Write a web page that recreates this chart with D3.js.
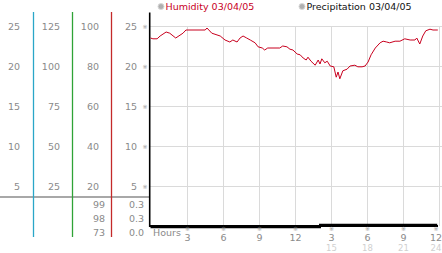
<!DOCTYPE html>
<html>
<head>
<meta charset="utf-8">
<script src="https://cdn.jsdelivr.net/npm/d3@7"></script>
<style>
  body { margin: 0; background: #fff; }
  svg { display: block; font-family: "DejaVu Sans", Verdana, sans-serif; }
</style>
</head>
<body>
<svg id="chart"></svg>
<script>
// humidity trace, hours from midnight
const hours = [0, 0.2, 0.55, 0.8, 1.3, 1.6, 2.1, 2.7, 2.95, 4.55, 4.7, 5.1, 5.8, 6.2, 6.6, 6.85, 7.2, 7.45, 7.7, 8.0,
  8.3, 8.7, 8.95, 9.3, 9.5, 9.75, 10.75, 11.0, 11.35, 11.6, 11.85, 12.2, 12.45, 12.7, 12.95, 13.1, 13.35, 13.7, 13.95,
  14.1, 14.25, 14.5, 14.7, 14.95, 15.25, 15.45, 15.6, 15.75, 16.0, 16.35, 16.6, 17.0, 17.25, 17.6, 17.85, 18.1, 18.35,
  18.7, 19.1, 19.35, 19.65, 19.9, 20.35, 20.75, 21.15, 21.6, 22.0, 22.15, 22.4, 22.65, 22.9, 23.25, 23.5, 23.9];
const humidity = [23.5, 23.4, 23.4, 23.75, 24.25, 24.1, 23.5, 24.1, 24.5, 24.5, 24.75, 24.1, 23.75, 23.25, 23.0, 23.25, 23.0, 23.5, 23.75, 23.5,
  23.25, 22.9, 22.4, 22.25, 22.0, 22.25, 22.25, 22.5, 22.4, 22.1, 22.0, 21.5, 21.4, 21.0, 20.75, 21.1, 20.6, 20.1, 20.75,
  20.25, 20.9, 20.4, 20.6, 20.0, 19.9, 18.6, 19.25, 18.4, 19.4, 19.6, 20.0, 20.1, 19.9, 19.9, 20.0, 20.5, 21.4,
  22.25, 22.9, 23.1, 23.0, 22.9, 23.1, 23.1, 23.4, 23.25, 23.25, 23.5, 22.75, 23.75, 24.4, 24.6, 24.5, 24.5];

const precipHours = [0, 14.1, 23.85];
const precip = [0, 0.3, 0.3];

const yTicks = [25, 20, 15, 10, 5];
const col1Labels = ["25", "20", "15", "10", "5"];
const col2Labels = ["125", "100", "75", "50", "25"];
const col3Labels = ["100", "80", "60", "40", "20"];
const col4Labels = ["25", "20", "15", "10", "5"];
const humStats = ["99", "98", "73"];
const precipStats = ["0.3", "0.3", "0.0"];

const xTicks = [3, 6, 9, 12, 15, 18, 21, 24];
const xLabels = ["3", "6", "9", "12", "3", "6", "9", "12"];
const xLabels2 = ["", "", "", "", "15", "18", "21", "24"];

const legendNames = ["Humidity 03/04/05", "Precipitation 03/04/05"];

const width = 442, height = 253;
const svg = d3.select("#chart").attr("width", width).attr("height", height);

const x = d3.scaleLinear().domain([0, 24]).range([150.5, 439]);
const y = d3.scaleLinear().domain([0, 25]).range([226, 26]);

const red = "#c8001e";
const gray = "#8a8a8a";

// grid
svg.append("g")
  .selectAll("line")
  .data(yTicks)
  .join("line")
  .attr("x1", 150).attr("x2", width)
  .attr("y1", d => Math.round(y(d)) + 0.5).attr("y2", d => Math.round(y(d)) + 0.5)
  .attr("stroke", "#dadada");

svg.append("g")
  .selectAll("line")
  .data(xTicks)
  .join("line")
  .attr("x1", d => Math.round(x(d)) + 0.5).attr("x2", d => Math.round(x(d)) + 0.5)
  .attr("y1", y(25)).attr("y2", 226)
  .attr("stroke", "#dadada");

// left scale columns
const cols = [
  { labels: col1Labels, right: 20 },
  { labels: col2Labels, right: 60 },
  { labels: col3Labels, right: 99 },
  { labels: col4Labels, right: 137 }
];
cols.forEach(c => {
  svg.append("g")
    .selectAll("text")
    .data(yTicks)
    .join("text")
    .attr("x", c.right)
    .attr("y", d => y(d) + 3.5)
    .attr("text-anchor", "end")
    .attr("font-size", 9.5)
    .attr("fill", gray)
    .text((d, i) => c.labels[i]);
});

// tick marks on y axis
svg.append("g")
  .selectAll("text")
  .data(yTicks)
  .join("text")
  .attr("x", 145)
  .attr("y", d => y(d) + 2.5)
  .attr("text-anchor", "middle")
  .attr("font-size", 6)
  .attr("fill", "#999")
  .text("※");

// separator
svg.append("line")
  .attr("x1", 0).attr("x2", 150).attr("y1", 197).attr("y2", 197)
  .attr("stroke", "#a8a8a8").attr("stroke-width", 2);

// stats rows
const statRows = [204, 218, 232.5];
svg.append("g").selectAll("text").data(humStats).join("text")
  .attr("x", 105).attr("y", (d, i) => statRows[i] + 3.5)
  .attr("text-anchor", "end").attr("font-size", 9.5).attr("fill", gray)
  .text(d => d);
svg.append("g").selectAll("text").data(precipStats).join("text")
  .attr("x", 144).attr("y", (d, i) => statRows[i] + 3.5)
  .attr("text-anchor", "end").attr("font-size", 9.5).attr("fill", gray)
  .text(d => d);

// coloured column dividers
[{ x: 33.5, c: "#2aa6c8" }, { x: 72.5, c: "#2fa336" }, { x: 111.5, c: "#c42a2a" }].forEach(d => {
  svg.append("line")
    .attr("x1", d.x).attr("x2", d.x).attr("y1", 12).attr("y2", 237)
    .attr("stroke", d.c).attr("stroke-width", 1.3);
});

// axes
svg.append("line")
  .attr("x1", 149.7).attr("x2", 149.7).attr("y1", 12.5).attr("y2", 227)
  .attr("stroke", "#000").attr("stroke-width", 1.6);
svg.append("line")
  .attr("x1", 149).attr("x2", 438).attr("y1", 226).attr("y2", 226)
  .attr("stroke", "#000").attr("stroke-width", 2);

// precipitation
const precipPts = precipHours.map((h, i) => [h, precip[i]]);
svg.append("path")
  .datum(precipPts)
  .attr("fill", "none")
  .attr("stroke", "#000")
  .attr("stroke-width", 2)
  .attr("d", d3.line().x(d => x(d[0])).y(d => y(d[1]) + 1.2).curve(d3.curveStepAfter));

// humidity
const humPts = hours.map((h, i) => [h, humidity[i]]);
svg.append("path")
  .datum(humPts)
  .attr("fill", "none")
  .attr("stroke", red)
  .attr("stroke-width", 1)
  .attr("d", d3.line().x(d => x(d[0])).y(d => y(d[1])));

// x labels
svg.append("text")
  .attr("x", 153).attr("y", 235.5)
  .attr("font-size", 9.5).attr("fill", gray)
  .text("Hours");

const xg = svg.append("g").selectAll("g").data(xTicks).join("g")
  .attr("transform", d => `translate(${Math.min(Math.round(x(d)) + 0.5, 436)},0)`);
xg.append("text").attr("y", 231).attr("text-anchor", "middle")
  .attr("font-size", 6).attr("fill", "#999").text("※");
xg.append("text").attr("y", 240.5).attr("text-anchor", "middle")
  .attr("font-size", 9.5).attr("fill", gray).text((d, i) => xLabels[i]);
xg.append("text").attr("y", 250.5).attr("text-anchor", "middle")
  .attr("font-size", 8.5).attr("fill", "#d0d0d0").text((d, i) => xLabels2[i]);

// legend
const legend = svg.append("g").selectAll("g").data(legendNames).join("g")
  .attr("transform", (d, i) => `translate(${[161, 302][i]},6.5)`);
legend.append("circle").attr("r", 3)
  .attr("fill", "#b0b0b0").attr("stroke", "#d8d8d8").attr("stroke-width", 1);
legend.append("text").attr("x", 4.5).attr("y", 3.5)
  .attr("font-size", 9.5)
  .attr("fill", (d, i) => i === 0 ? red : "#111")
  .text(d => d);
</script>
</body>
</html>
